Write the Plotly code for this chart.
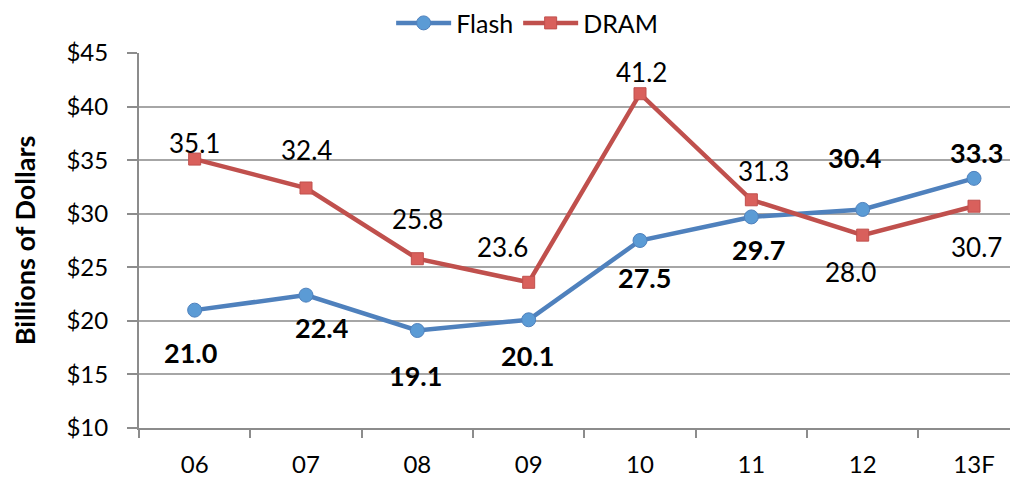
import plotly.graph_objects as go

categories = ["06", "07", "08", "09", "10", "11", "12", "13F"]
flash = [21.0, 22.4, 19.1, 20.1, 27.5, 29.7, 30.4, 33.3]
dram = [35.1, 32.4, 25.8, 23.6, 41.2, 31.3, 28.0, 30.7]
y_ticks = [10, 15, 20, 25, 30, 35, 40, 45]
y_tick_labels = ["$10", "$15", "$20", "$25", "$30", "$35", "$40", "$45"]

# label placement offsets (pixels) relative to each point
flash_off = [(-4, -42), (15, -32), (-2, -45), (-1, -36), (4, -37), (7, -33), (-8, 52), (2, 26)]
dram_off = [(0, 16), (0, 38), (0, 40), (-26, 35), (1, 22), (12, 29), (-12, -37), (2, -41)]

FONT = "Lato, 'Open Sans', sans-serif"
xs = list(range(len(categories)))

fig = go.Figure()
fig.add_trace(go.Scatter(
    x=xs, y=flash, name="Flash", mode="lines+markers",
    line=dict(color="#4f81bd", width=4.5),
    marker=dict(symbol="circle", size=14, color="#5b9bd5", line=dict(color="#4f81bd", width=1)),
))
fig.add_trace(go.Scatter(
    x=xs, y=dram, name="DRAM", mode="lines+markers",
    line=dict(color="#c0504d", width=4.5),
    marker=dict(symbol="square", size=12, color="#d9605c", line=dict(color="#c0504d", width=1)),
))

for i, v in enumerate(flash):
    dx, dy = flash_off[i]
    fig.add_annotation(x=xs[i], y=v, text=f"<b>{v:.1f}</b>", showarrow=False,
                       xshift=dx, yshift=dy, font=dict(family=FONT, size=27, color="black"))
for i, v in enumerate(dram):
    dx, dy = dram_off[i]
    fig.add_annotation(x=xs[i], y=v, text=f"{v:.1f}", showarrow=False,
                       xshift=dx, yshift=dy, font=dict(family=FONT, size=26, color="black"))

# page has an 8px body margin, so the figure is sized/offset to compensate
fig.update_layout(
    width=1010, height=473,
    margin=dict(l=131, r=0, t=45, b=53, autoexpand=False),
    paper_bgcolor="white", plot_bgcolor="white",
    font=dict(family=FONT, size=24, color="black"),
    showlegend=True,
    legend=dict(orientation="h", x=0.514, xanchor="center", xref="container",
                y=0.968, yanchor="middle", yref="container",
                font=dict(family=FONT, size=25), itemwidth=55,
                traceorder="normal"),
    xaxis=dict(
        range=[-0.5, 7.395], tickmode="array", tickvals=xs, ticktext=categories,
        showgrid=False, zeroline=False, showline=True, linecolor="#8c8c8c", linewidth=2,
        ticks="", tickfont=dict(family=FONT, size=24), ticklabelstandoff=14,
        minor=dict(tickmode="array", tickvals=[-0.5 + k for k in range(8)],
                   ticks="outside", ticklen=8, tickcolor="#8c8c8c", tickwidth=2),
    ),
    yaxis=dict(
        range=[10, 45], tickmode="array", tickvals=y_ticks, ticktext=y_tick_labels,
        showgrid=True, gridcolor="#a6a6a6", gridwidth=2, zeroline=False,
        showline=True, linecolor="#8c8c8c", linewidth=2,
        ticks="outside", ticklen=10, tickcolor="#8c8c8c", tickwidth=2,
        tickfont=dict(family=FONT, size=24), ticklabelstandoff=14,
        title=dict(text="<b>Billions of Dollars</b>", font=dict(family=FONT, size=27), standoff=34),
    ),
)

fig.write_html("out.html")
